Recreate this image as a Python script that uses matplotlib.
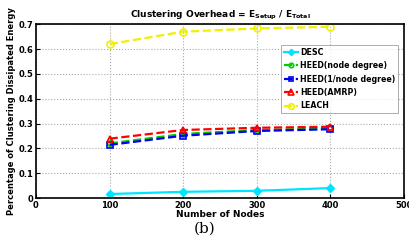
import matplotlib
matplotlib.use("Agg")
import matplotlib.pyplot as plt

nodes = [100, 200, 300, 400]
desc = [0.016, 0.025, 0.029, 0.040]
heed_nd = [0.220, 0.258, 0.274, 0.280]
heed_ind = [0.214, 0.251, 0.270, 0.277]
heed_amrp = [0.239, 0.274, 0.283, 0.287]
leach = [0.620, 0.670, 0.683, 0.690]
xticks = [0, 100, 200, 300, 400, 500]
yticks = [0, 0.1, 0.2, 0.3, 0.4, 0.5, 0.6, 0.7]

fig = plt.figure(figsize=(4.09, 2.4), dpi=100)
ax = fig.add_axes([0.088, 0.175, 0.900, 0.724])

ax.plot(nodes, desc, color="#00e5ff", ls="-", lw=1.6, marker="D", ms=4, mfc="#00e5ff", label="DESC")
ax.plot(nodes, heed_nd, color="#00cc00", ls="--", lw=1.6, marker="o", ms=4, mfc="none", mew=1.2, label="HEED(node degree)")
ax.plot(nodes, heed_ind, color="#0000ee", ls="--", lw=1.6, marker="s", ms=4, mfc="none", mew=1.2, label="HEED(1/node degree)")
ax.plot(nodes, heed_amrp, color="#ff0000", ls="--", lw=1.6, marker="^", ms=5, mfc="none", mew=1.2, label="HEED(AMRP)")
ax.plot(nodes, leach, color="#f0f000", ls="--", lw=1.6, marker="o", ms=5, mfc="none", mew=1.2, label="LEACH")

ax.set_xlim(0, 500)
ax.set_ylim(0, 0.7)
ax.set_xticks(xticks)
ax.set_yticks(yticks)
ax.set_xticklabels([str(v) for v in xticks], fontsize=6, fontweight="bold")
ax.set_yticklabels([("0" if v == 0 else f"{v:.1f}") for v in yticks], fontsize=6, fontweight="bold")
ax.tick_params(direction="in", length=3, width=0.8, pad=2)
ax.grid(True, ls=":", color="#aaaaaa", lw=0.8)
for s in ax.spines.values():
    s.set_linewidth(1.2)

ax.set_xlabel("Number of Nodes", fontsize=6.5, fontweight="bold", labelpad=0)
ax.set_ylabel("Percentage of Clustering Dissipated Energy", fontsize=6, fontweight="bold", labelpad=2)
ax.set_title(r"Clustering Overhead = E$_{\mathbf{Setup}}$ / E$_{\mathbf{Total}}$", fontsize=6.5, fontweight="bold", pad=5)

leg = ax.legend(loc="upper right", prop={"weight": "bold", "size": 5.7}, frameon=True,
                fancybox=False, edgecolor="#888888", handlelength=1.8, borderpad=0.4, labelspacing=0.55,
                handletextpad=0.2, bbox_to_anchor=(0.995, 0.905), markerscale=0.8)
leg.get_frame().set_linewidth(0.6)

fig.text(0.5, 0.02, "(b)", ha="center", va="bottom", fontsize=11, family="DejaVu Serif")

fig.savefig("out.png", dpi=100)
